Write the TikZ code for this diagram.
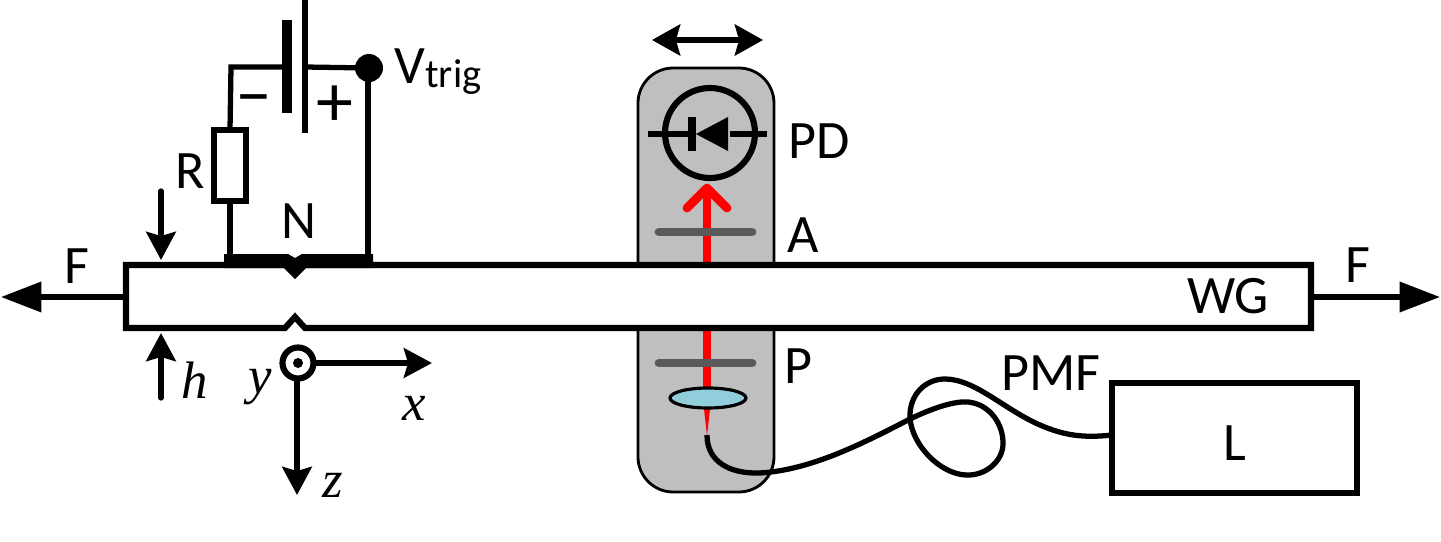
\documentclass[tikz,border=0pt]{standalone}
\usepackage{fontspec}
\setmainfont{Carlito}
\newfontfamily\axisfont{Liberation Serif}
\usetikzlibrary{arrows.meta}
\tikzset{
  wire/.style={line width=1.5pt},
  bold/.style={line width=1.75pt},
  lbl/.style={anchor=base, inner sep=0pt, font=\fontsize{15.4}{18}\selectfont},
  axis/.style={anchor=base, inner sep=0pt, font=\axisfont\itshape\fontsize{15}{18}\selectfont},
  sign/.style={inner sep=0pt, font=\fontsize{21}{22}\selectfont},
  pil/.style={wire, -{Stealth[length=8pt, width=8.4pt, inset=1.2pt]}},
  bigpil/.style={wire, -{Stealth[length=11.5pt, width=8.4pt, inset=0pt]}},
  plate/.style={line width=2.5pt, line cap=round, color=platecol}
}
\definecolor{platecol}{HTML}{595959}
\definecolor{boxcol}{HTML}{BFBFBF}
\definecolor{lenscol}{HTML}{92CDDC}
\begin{document}
\begin{tikzpicture}[x=0.01cm, y=-0.01cm, line join=miter]
\useasboundingbox (0,0) rectangle (1441,542);
% --- Gray holder with detector and optics ---
\draw[fill=boxcol, line width=0.8pt, rounded corners=10pt] (638,68) rectangle (774,492);
% --- Beam ---
\draw[red, line width=2.5pt] (707,262) -- (707,400);
\fill[red] (703,400) -- (711,400) -- (707,436) -- cycle;
\draw[red, line width=2.5pt, line cap=round, line join=round] (687,208) -- (707,188) -- (727,208);
\draw[red, line width=2.5pt] (707,188) -- (707,262);
\draw[plate] (659,232) -- (752,232);
\draw[plate] (659,363) -- (752,363);
\draw[fill=lenscol, line width=0.9pt] (708,398) ellipse (38 and 10);
% --- Photodiode ---
\draw[bold] (710,133) circle (45);
\draw[wire] (648,134) -- (692,134);
\draw[wire] (730,134) -- (767,134);
\draw[line width=2pt] (692,117) -- (692,151);
\fill (696,134) -- (728,117) -- (728,151) -- cycle;
% --- Waveguide ---
\draw[bold, fill=white] (126,265) -- (126,328) -- (285,328) -- (295,317) -- (305,328)
  -- (1311,328) -- (1311,265) -- cycle;
\fill (224,254) -- (288,254) -- (295,258) -- (302,254) -- (373,254) -- (373,268)
  -- (306,268) -- (295,279) -- (284,268) -- (224,268) -- cycle;
% --- Circuit ---
\coordinate (corner) at (231,67);
\coordinate (plus) at (305,67);
\coordinate (vdot) at (369,68);
\coordinate (rtop) at (230,130);
\coordinate (rbot) at (230,201);
\draw[wire] (rtop) -- (corner) -- (287,67);
\draw[wire] (plus) -- (vdot);
\draw[bold] (368,68) -- (368,266);
\fill (vdot) circle (14);
\draw[wire] (rbot) -- (230,256);
\draw[wire] (214,130) rectangle (246,201);
\draw[line width=3.1pt] (287,20) -- (287,113);
\draw[wire] (305,0) -- (305,133);
\node[sign] (minus) at (254,106) {–};
\node[sign] (plussign) at (335,106) {+};
% --- Height and force arrows ---
\coordinate (htop) at (161,191);
\coordinate (htopend) at (161,260);
\coordinate (hbot) at (161,398);
\coordinate (hbotend) at (161,333);
\draw[pil, line cap=round] (htop) -- (htopend);
\draw[pil, line cap=round] (hbot) -- (hbotend);
\draw[bigpil] (126,297) -- (1,297);
\draw[bigpil] (1311,297) -- (1440,297);
% --- Axes ---
\coordinate (origin) at (298,363);
\draw[bold] (origin) circle (15.5);
\fill (origin) circle (5);
\draw[pil] (314,363) -- (432,363);
\draw[pil] (297,379) -- (297,495);
% --- Scan arrow ---
\draw[wire, {Stealth[length=8pt, width=8.8pt, inset=1.2pt]}-{Stealth[length=8pt, width=8.8pt, inset=1.2pt]}] (652,40) -- (763,40);
% --- Fiber and laser ---
\draw[wire] (707,435) .. controls (707,462) and (730,474) .. (760,473)
  .. controls (810,470) and (860,445) .. (910,419)
  .. controls (935,407) and (955,401) .. (968,402)
  .. controls (990,404) and (1004,425) .. (1003,445)
  .. controls (1002,462) and (985,476) .. (966,475)
  .. controls (940,474) and (912,445) .. (910,418)
  .. controls (909,395) and (925,379) .. (945,379)
  .. controls (975,379) and (1005,410) .. (1040,425)
  .. controls (1065,436) and (1085,438) .. (1112,435);
\draw[bold] (1112,383) rectangle (1357,493);
% --- Labels ---
\node[lbl] (vtrig) at (438,83) {V\raisebox{-1.2pt}{\fontsize{11.5}{13}\selectfont trig}};
\node[lbl] (rlabel) at (190,188) {R};
\node[lbl] (nlabel) at (299,238) {N};
\node[lbl] (fleft) at (77,283) {F};
\node[lbl] (fright) at (1358,282) {F};
\node[lbl] (wglabel) at (1228,313) {WG};
\node[lbl] (pdlabel) at (819,158) {PD};
\node[lbl] (alabel) at (803,252) {A};
\node[lbl] (plabel) at (798,383) {P};
\node[lbl] (pmflabel) at (1051,390) {PMF};
\node[lbl] (llabel) at (1235,460) {L};
\node[axis] (hlabel) at (195,398) {h};
\node[axis] (ylabel) at (260,393) {y};
\node[axis] (xlabel) at (414,420) {x};
\node[axis] (zlabel) at (333,497) {z};
\end{tikzpicture}
\end{document}
